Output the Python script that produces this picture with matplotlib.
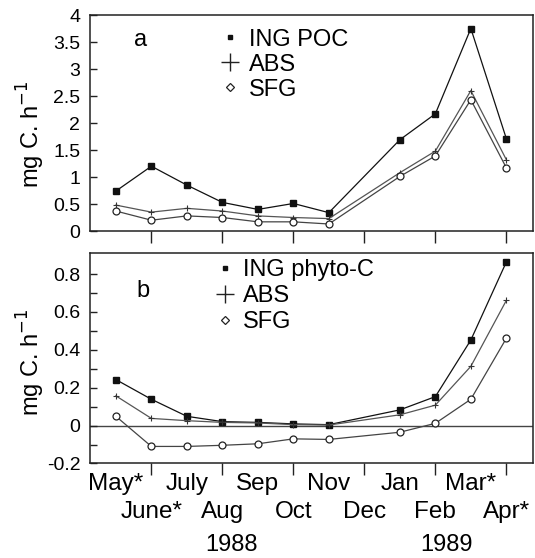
import matplotlib
matplotlib.use("Agg")
import matplotlib.pyplot as plt
from matplotlib.lines import Line2D
from matplotlib.transforms import blended_transform_factory

plt.rcParams['font.family'] = ['Liberation Sans', 'DejaVu Sans']
plt.rcParams['font.size'] = 14

# months May 1988 .. Apr 1989 (no sample in Dec)
months = ["May*", "June*", "July", "Aug", "Sep", "Oct", "Nov", "Dec",
          "Jan", "Feb", "Mar*", "Apr*"]
x_obs = [0, 1, 2, 3, 4, 5, 6, 8, 9, 10, 11]

# panel a (POC based)
ing_poc = [0.74, 1.20, 0.85, 0.53, 0.40, 0.51, 0.34, 1.69, 2.17, 3.75, 1.71]
abs_a = [0.48, 0.35, 0.42, 0.37, 0.28, 0.25, 0.23, 1.08, 1.48, 2.60, 1.32]
sfg_a = [0.37, 0.20, 0.28, 0.25, 0.17, 0.17, 0.13, 1.01, 1.39, 2.43, 1.17]

# panel b (phytoplankton carbon)
ing_phy = [0.243, 0.139, 0.049, 0.021, 0.017, 0.009, 0.005, 0.083, 0.153, 0.452, 0.864]
abs_b = [0.157, 0.038, 0.026, 0.017, 0.014, 0.005, 0.003, 0.057, 0.108, 0.313, 0.661]
sfg_b = [0.049, -0.110, -0.110, -0.104, -0.096, -0.070, -0.073, -0.035, 0.012, 0.139, 0.461]

BIG = 17.5

fig = plt.figure(figsize=(5.35, 5.58), dpi=100)
ax1 = fig.add_axes([0.1682, 0.586, 0.828, 0.3871])
ax2 = fig.add_axes([0.1682, 0.1694, 0.828, 0.3767])


def draw(ax, ing, ab, sf):
    ax.plot(x_obs, ing, color='#111111', lw=0.9, marker='s', ms=3.8,
            mfc='#111111', mec='#111111')
    ax.plot(x_obs, ab, color='#555555', lw=0.9, marker='+', ms=4, mew=0.8,
            mec='#333333')
    ax.plot(x_obs, sf, color='#444444', lw=0.9, marker='o', ms=5,
            mfc='white', mec='#222222', mew=0.9)


def legend(ax, first, x, y, gap):
    h = [Line2D([], [], ls='none', marker='s', ms=3.5, color='#111111'),
         Line2D([], [], ls='none', marker='+', ms=13, mew=1.0, color='#222222'),
         Line2D([], [], ls='none', marker='D', ms=4, mfc='white',
                mec='#222222', mew=0.9)]
    ax.legend(h, [first, "ABS", "SFG"], loc='upper left', bbox_to_anchor=(x, y),
              frameon=False, borderpad=0, borderaxespad=0, handlelength=0.7,
              handletextpad=0.45, labelspacing=gap, fontsize=17)


draw(ax1, ing_poc, abs_a, sfg_a)
draw(ax2, ing_phy, abs_b, sfg_b)
ax2.axhline(0, color='#444444', lw=1.0, zorder=0)

legend(ax1, "ING POC", 0.298, 0.937, 0.13)
legend(ax2, "ING phyto-C", 0.285, 0.972, 0.17)
ax1.text(0.115, 0.885, "a", transform=ax1.transAxes, ha='center', va='center',
         fontsize=17)
ax2.text(0.12, 0.82, "b", transform=ax2.transAxes, ha='center', va='center',
         fontsize=17)

for ax in (ax1, ax2):
    ax.set_xlim(-0.73, 11.75)
    for s in ax.spines.values():
        s.set_linewidth(1.1)
        s.set_color('#222222')
    ax.tick_params(axis='y', direction='in', length=5, width=1.0, pad=7,
                   color='#222222')
    ax.tick_params(axis='x', which='major', direction='out', length=8.5, width=1.0,
                   color='#222222')
    ax.set_xticks([1, 3, 5, 7, 9, 11])
    ax.set_xticks([0, 2, 4, 6, 8, 10], minor=True)
    ax.set_ylabel("mg C. h$^{-1}$", fontsize=17)

ax1.set_ylim(0, 4)
ax1.set_yticks([0, 0.5, 1, 1.5, 2, 2.5, 3, 3.5, 4])
ax1.set_yticklabels(["0", "0.5", "1", "1.5", "2", "2.5", "3", "3.5", "4"])
ax1.tick_params(axis='x', which='both', labelbottom=False)
ax1.tick_params(axis='x', which='minor', length=0)
ax1.yaxis.set_label_coords(-0.098, 0.449)

ax2.set_ylim(-0.2, 0.91)
ax2.set_yticks([-0.2, 0, 0.2, 0.4, 0.6, 0.8])
ax2.set_yticklabels(["-0.2", "0", "0.2", "0.4", "0.6", "0.8"])
ax2.set_yticks([-0.1, 0.1, 0.3, 0.5, 0.7], minor=True)
ax2.tick_params(axis='y', which='minor', direction='in', length=5, width=1.0,
                color='#222222')
ax2.set_xticklabels(months[1::2], fontsize=BIG)
ax2.set_xticklabels(months[0::2], minor=True, fontsize=BIG)
ax2.tick_params(axis='x', which='major', pad=18.5)
ax2.tick_params(axis='x', which='minor', length=0, pad=6.5)
ax2.yaxis.set_label_coords(-0.098, 0.483)

tr = blended_transform_factory(ax2.transData, fig.transFigure)
ax2.text(3.27, 1 - 545 / 558, "1988", transform=tr, ha='center', va='center',
         fontsize=17)
ax2.text(9.3, 1 - 545 / 558, "1989", transform=tr, ha='center', va='center',
         fontsize=17)

fig.savefig("out.png", dpi=100)
